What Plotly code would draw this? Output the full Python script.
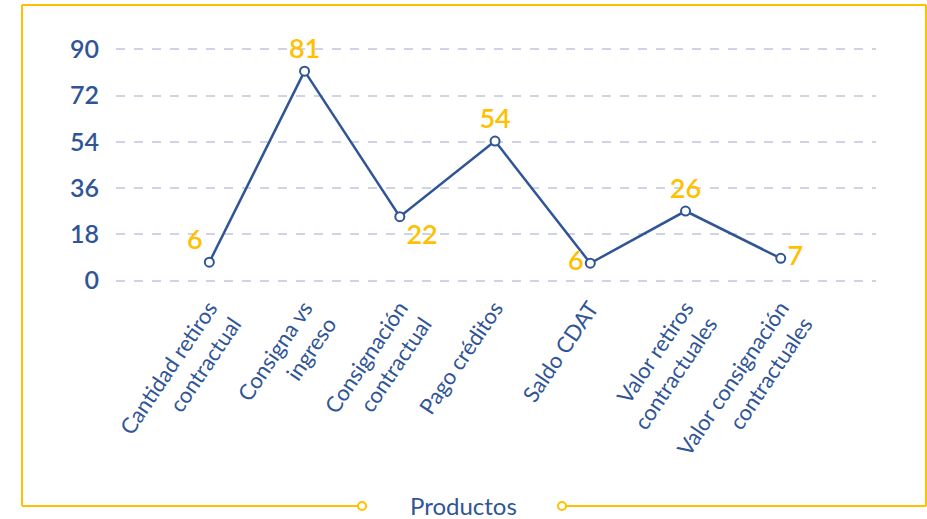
import plotly.graph_objects as go

categories = [
    "Cantidad retiros<br>contractual",
    "Consigna vs<br>ingreso",
    "Consignación<br>contractual",
    "Pago créditos",
    "Saldo CDAT",
    "Valor retiros<br>contractuales",
    "Valor consignación<br>contractuales",
]
values = [7.2, 81.5, 24.9, 54.3, 6.8, 27.1, 8.7]
labels = ["6", "81", "22", "54", "6", "26", "7"]
label_pos = ["top left", "top center", "bottom right", "top center",
             "middle left", "top center", "middle right"]
y_ticks = [0, 18, 36, 54, 72, 90]

BLUE = "#2f5597"
YELLOW = "#ffc000"
GRID = "#cfd3e6"
FONT = "Lato, 'Open Sans', sans-serif"

fig = go.Figure()
fig.add_trace(go.Scatter(
    x=categories, y=values, mode="lines+markers+text",
    text=labels, textposition=label_pos,
    textfont=dict(color=YELLOW, size=27, family=FONT, weight=600),
    line=dict(color=BLUE, width=2.5),
    marker=dict(size=9, color="white", line=dict(color=BLUE, width=2)),
    cliponaxis=False, showlegend=False, hoverinfo="skip",
))

# plot area in pixels: x 116..876, y ~47.7..282
L, R, T, B = 116, 51, 48, 237
W, H = 927, 519
pw, ph = W - L - R, H - T - B

def px(x):
    return (x - L) / pw

def py(y):
    return (H - B - y) / ph

shapes = []
line_style = dict(color=YELLOW, width=2)
# border frame
shapes.append(dict(type="line", xref="paper", yref="paper", x0=px(22), x1=px(926), y0=py(5), y1=py(5), line=line_style))
shapes.append(dict(type="line", xref="paper", yref="paper", x0=px(22), x1=px(22), y0=py(5), y1=py(506), line=line_style))
shapes.append(dict(type="line", xref="paper", yref="paper", x0=px(926), x1=px(926), y0=py(5), y1=py(506), line=line_style))
shapes.append(dict(type="line", xref="paper", yref="paper", x0=px(22), x1=px(358), y0=py(506), y1=py(506), line=line_style))
shapes.append(dict(type="line", xref="paper", yref="paper", x0=px(566), x1=px(926), y0=py(506), y1=py(506), line=line_style))
for cx in (362, 562):
    shapes.append(dict(type="circle", xref="paper", yref="paper",
                       xsizemode="pixel", ysizemode="pixel",
                       xanchor=px(cx), yanchor=py(506),
                       x0=-4, x1=4, y0=-4, y1=4,
                       line=dict(color=YELLOW, width=2), fillcolor="white"))

fig.update_layout(
    width=W, height=H,
    margin=dict(l=L, r=R, t=T, b=B),
    paper_bgcolor="white", plot_bgcolor="white",
    font=dict(family=FONT, color=BLUE),
    shapes=shapes,
    annotations=[dict(text="Productos", xref="paper", yref="paper",
                      x=px(463), y=py(505), showarrow=False,
                      xanchor="center", yanchor="middle",
                      font=dict(size=24, color=BLUE, family=FONT))],
    xaxis=dict(
        type="category", range=[-0.98, 7.0],
        showgrid=False, zeroline=False, showline=False, ticks="",
        tickangle=-56, tickfont=dict(size=22, color=BLUE, family=FONT),
        ticklabelstandoff=8,
    ),
    yaxis=dict(
        range=[-0.5, 90.5], tickvals=y_ticks, ticktext=[str(v) for v in y_ticks],
        showgrid=True, gridcolor=GRID, griddash="dash", gridwidth=1.5,
        zeroline=False, showline=False, ticks="",
        tickfont=dict(size=25, color=BLUE, family=FONT, weight=600),
        ticklabelstandoff=16,
    ),
)

fig.write_html("out.html", config={"displayModeBar": False},
               post_script="document.body.style.margin='0';")
